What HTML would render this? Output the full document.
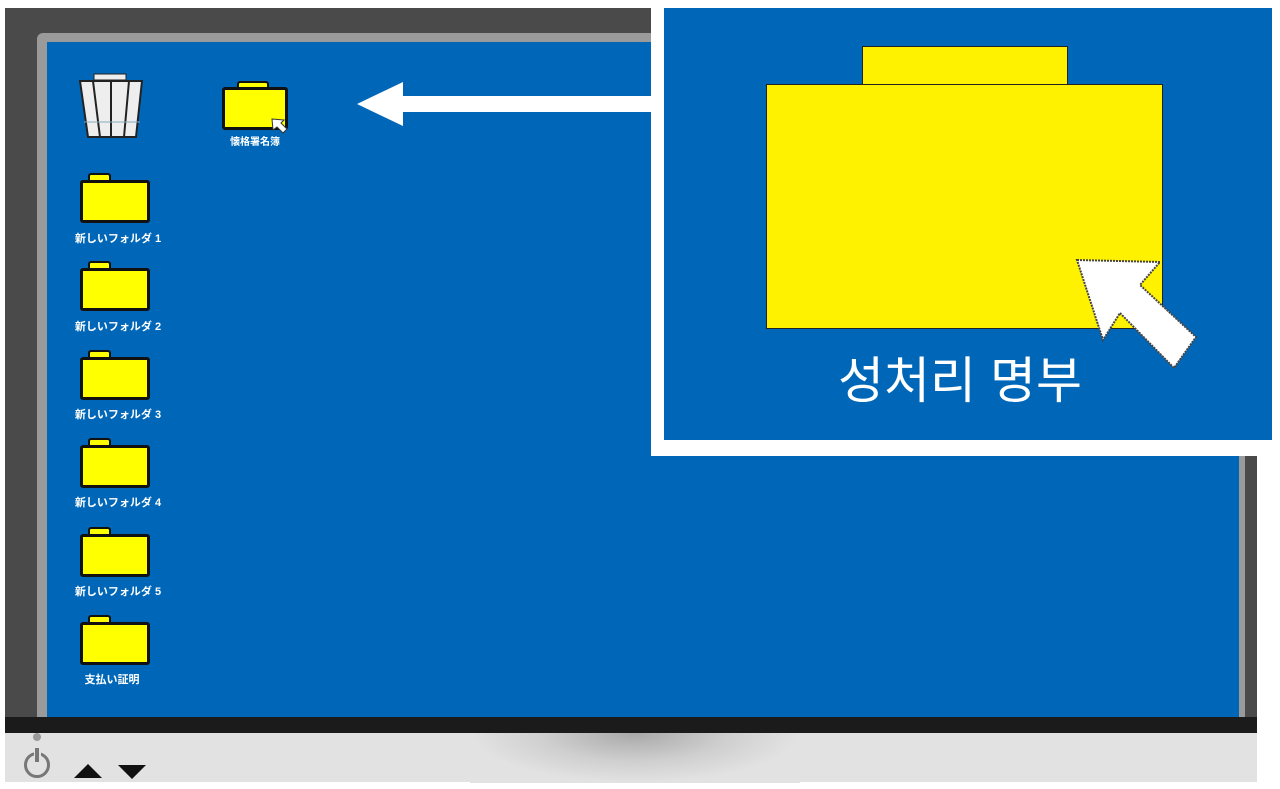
<!DOCTYPE html>
<html><head><meta charset="utf-8"><style>
body{margin:0;width:1280px;height:789px;background:#fff;position:relative;overflow:hidden;font-family:"Liberation Sans","Noto Sans CJK JP",sans-serif}
div{position:absolute;box-sizing:border-box}
.f{width:70px;height:43px;background:#ffff00;border:3px solid #111;border-radius:3px}
.t{width:23px;height:8px;background:#ffff00;border:2px solid #111;border-bottom:none;border-radius:3px 3px 0 0}
.l{color:#fff;font-weight:bold;font-size:11px;width:120px;text-align:center;font-family:"Liberation Sans","Noto Sans CJK JP",sans-serif}
</style></head><body>
<div style="left:5px;top:8px;width:1252px;height:712px;background:#4a4a4a"></div>
<div style="left:37px;top:33px;width:1208px;height:686px;background:#9a9a9a;border-radius:6px 6px 0 0"></div>
<div style="left:47px;top:42px;width:1192px;height:676px;background:#0067b8"></div>
<div style="left:5px;top:717px;width:1252px;height:16px;background:#1b1b1b"></div>
<div style="left:5px;top:733px;width:1252px;height:49px;background:#e2e2e2"></div>
<div style="left:470px;top:733px;width:330px;height:50px;background:radial-gradient(ellipse at 50% 0%,#a8a8a8 0%,#cfcfcf 40%,#e2e2e2 70%)"></div>
<div style="left:24px;top:752px;width:26px;height:26px;border:3px solid #777;border-radius:50%"></div>
<div style="left:34px;top:746px;width:7px;height:16px;background:#e2e2e2"></div>
<div style="left:35px;top:748px;width:4px;height:14px;background:#777"></div>
<div style="left:33px;top:733px;width:8px;height:8px;background:#999;border-radius:50%"></div>
<div style="left:74px;top:764px;width:0;height:0;border-left:14px solid transparent;border-right:14px solid transparent;border-bottom:14px solid #111"></div>
<div style="left:118px;top:765px;width:0;height:0;border-left:14px solid transparent;border-right:14px solid transparent;border-top:14px solid #111"></div>

<svg style="position:absolute;left:78px;top:72px" width="70" height="70"><rect x="16" y="2" width="32" height="6" fill="#eee" stroke="#222"/><path d="M2 9 L64 9 L58 65 L10 65 Z" fill="#eee" stroke="#222" stroke-width="2"/><path d="M15 9 L22 65 M33 9 L33 65 M51 9 L46 65" stroke="#222" stroke-width="2"/><line x1="6" y1="50" x2="62" y2="50" stroke="#8ab" stroke-width="1"/></svg>
<div class="t" style="left:237px;top:81px;width:32px;height:7px"></div>
<div class="f" style="left:222px;top:87px;width:66px;height:43px"></div>
<svg style="position:absolute;left:270px;top:117px" width="20" height="20"><path d="M2 2 L14 3 L11 6 L17 12 L13 16 L7 10 L3 13 Z" fill="#fff" stroke="#333"/></svg>
<div class="l" style="left:195px;top:133px;font-size:10px">懐格署名簿</div>

<div class="t" style="left:88px;top:173px"></div><div class="f" style="left:80px;top:180px"></div><div class="l" style="left:58px;top:230px">新しいフォルダ 1</div>
<div class="t" style="left:88px;top:261px"></div><div class="f" style="left:80px;top:268px"></div><div class="l" style="left:58px;top:318px">新しいフォルダ 2</div>
<div class="t" style="left:88px;top:350px"></div><div class="f" style="left:80px;top:357px"></div><div class="l" style="left:58px;top:406px">新しいフォルダ 3</div>
<div class="t" style="left:88px;top:438px"></div><div class="f" style="left:80px;top:445px"></div><div class="l" style="left:58px;top:494px">新しいフォルダ 4</div>
<div class="t" style="left:88px;top:527px"></div><div class="f" style="left:80px;top:534px"></div><div class="l" style="left:58px;top:583px">新しいフォルダ 5</div>
<div class="t" style="left:88px;top:615px"></div><div class="f" style="left:80px;top:622px"></div><div class="l" style="left:52px;top:671px">支払い証明</div>

<svg style="position:absolute;left:350px;top:75px" width="310" height="60"><path d="M7 29 L53 7 L53 21 L302 21 L302 37 L53 37 L53 51 Z" fill="#fff"/></svg>

<div style="left:651px;top:0;width:629px;height:456px;background:#fff"></div>
<div style="left:664px;top:8px;width:608px;height:432px;background:#0067b8"></div>
<div style="left:862px;top:46px;width:206px;height:40px;background:#fff200;border:1px solid #222"></div>
<div style="left:766px;top:84px;width:397px;height:245px;background:#fff200;border:1px solid #222"></div>
<svg style="position:absolute;left:1070px;top:255px" width="130" height="120"><path d="M7 5 L90 7 L70 30 L126 82 L104 113 L50 58 L33 85 Z" fill="#fff" stroke="#444" stroke-width="2" stroke-dasharray="2 1"/></svg>
<div style="left:800px;top:346px;width:320px;text-align:center;color:#fff;font-size:50px;font-weight:normal;font-family:'Liberation Sans','Noto Sans CJK KR',sans-serif;line-height:70px">성처리 명부</div>
</body></html>
